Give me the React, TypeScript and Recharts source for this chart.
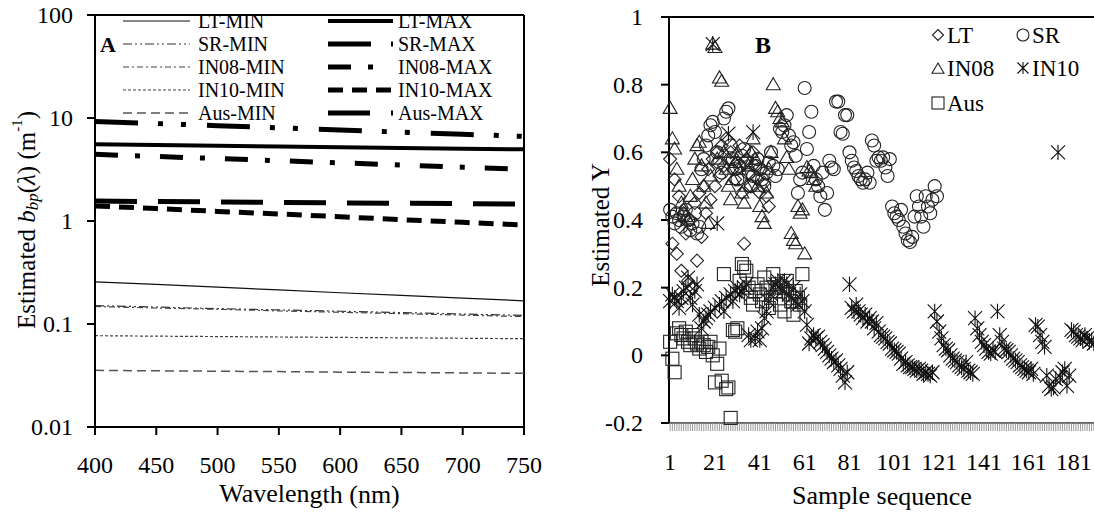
import React from "react";
import { LineChart, Line, XAxis, YAxis, ScatterChart, Scatter, ReferenceLine } from "recharts";

const FONT = "Times New Roman";

// Panel A: estimated bbp at each wavelength (log scale)
const wavelengths = [400, 450, 500, 550, 600, 650, 700, 750];
const ltMin = [0.257, 0.242, 0.228, 0.214, 0.201, 0.19, 0.178, 0.168];
const srMin = [0.151, 0.146, 0.141, 0.137, 0.133, 0.129, 0.125, 0.121];
const in08Min = [0.148, 0.143, 0.139, 0.134, 0.13, 0.126, 0.122, 0.118];
const in10Min = [0.077, 0.0762, 0.0755, 0.0748, 0.0741, 0.0734, 0.0727, 0.072];
const ausMin = [0.0355, 0.0351, 0.0348, 0.0345, 0.0341, 0.0338, 0.0335, 0.0332];
const ltMax = [5.55, 5.46, 5.37, 5.29, 5.2, 5.12, 5.04, 4.96];
const srMax = [9.26, 8.83, 8.42, 8.02, 7.65, 7.29, 6.95, 6.63];
const in08Max = [4.44, 4.23, 4.04, 3.85, 3.67, 3.5, 3.33, 3.18];
const in10Max = [1.4, 1.32, 1.24, 1.17, 1.1, 1.03, 0.97, 0.915];
const ausMax = [1.56, 1.545, 1.53, 1.515, 1.5, 1.487, 1.473, 1.46];
const wlTicks = [400, 450, 500, 550, 600, 650, 700, 750];
const logTicks = [0.01, 0.1, 1, 10, 100];

// Panel B: estimated Y per sample (sample n = position n in the list)
const ltY = [
  0.58, 0.33, 0.52, 0.3, 0.47, 0.25, 0.42, 0.36, 0.22, 0.4,
  0.2, 0.45, 0.28, 0.48, 0.35, 0.5, 0.42, 0.55, 0.46, 0.58,
  0.5, 0.6, 0.53, 0.62, 0.56, 0.64, 0.58, 0.6, 0.55, 0.52,
  0.57, 0.62, 0.48, 0.33, 0.58, 0.54, 0.5, 0.6, 0.56, 0.52,
  0.48, 0.55, 0.51, 0.47, 0.44,
];
const srY = [
  0.43, 0.41, 0.39, 0.42, 0.4, 0.38, 0.41, 0.43, 0.4, 0.37,
  0.39, 0.42, 0.36, 0.38, 0.55, 0.58, 0.62, 0.65, 0.68, 0.69,
  0.66, 0.6, 0.57, 0.54, 0.7, 0.72, 0.73, 0.62, 0.58, 0.55,
  0.52, 0.56, 0.59, 0.61, 0.57, 0.54, 0.5, 0.53, 0.56, 0.58,
  0.55, 0.52, 0.5, 0.54, 0.57, 0.6, 0.56, 0.53, 0.55, 0.67,
  0.66, 0.68, 0.71, 0.65, 0.62, 0.63, 0.59, 0.48, 0.52, 0.54,
  0.79, 0.61, 0.66, 0.72, 0.56, 0.52, 0.5, 0.47, 0.54, 0.43,
  0.48, 0.575, 0.555, 0.55, 0.75, 0.75, 0.66, 0.655, 0.71, 0.71,
  0.6, 0.575, 0.555, 0.545, 0.53, 0.52, 0.51, 0.52, 0.54, 0.51,
  0.635, 0.62, 0.575, 0.585, 0.575, 0.585, 0.555, 0.53, 0.58, 0.44,
  0.42, 0.41, 0.4, 0.43, 0.38, 0.36, 0.34, 0.335, 0.35, 0.41,
  0.47, 0.44, 0.41, 0.38, 0.47, 0.44, 0.42, 0.46, 0.5, 0.47,
];
const in08Y = [
  0.73, 0.64, 0.61, 0.55, 0.5, 0.45, 0.43, 0.41, 0.4, 0.47,
  0.52, 0.58, 0.62, 0.63, 0.56, 0.5, 0.45, 0.39, 0.53, 0.92,
  0.91, 0.58, 0.82, 0.81, 0.6, 0.55, 0.5, 0.46, 0.52, 0.57,
  0.6, 0.55, 0.48, 0.45, 0.5, 0.56, 0.6, 0.64, 0.58, 0.5,
  0.44, 0.41, 0.39, 0.48, 0.55, 0.6, 0.8, 0.73, 0.72, 0.7,
  0.69, 0.64, 0.585, 0.55, 0.36, 0.34, 0.33, 0.44, 0.42, 0.43,
  0.3, 0.555, 0.545, 0.54, 0.52, 0.5,
];
const in10Y = [
  0.16, 0.18, 0.17, 0.16, 0.14, 0.17, 0.19, 0.2, 0.23, 0.17,
  0.15, 0.19, 0.21, 0.12, 0.08, 0.1, 0.11, 0.12, 0.13, 0.92,
  0.14, 0.39, 0.15, 0.16, 0.13, 0.17, 0.655, 0.18, 0.16, 0.19,
  0.2, 0.18, 0.19, 0.2, 0.21, 0.06, 0.045, 0.66, 0.05, 0.07,
  0.045, 0.08, 0.11, 0.13, 0.16, 0.18, 0.2, 0.21, 0.22, 0.2,
  0.19, 0.22, 0.21, 0.18, 0.17, 0.2, 0.16, 0.15, 0.18, 0.16,
  0.13, 0.09, 0.035, 0.05, 0.06, 0.05, 0.055, 0.04, 0.03, 0.02,
  0.01, 0, -0.01, -0.02, -0.015, -0.03, -0.04, -0.06, -0.08, -0.05,
  0.21, 0.14, 0.13, 0.15, 0.13, 0.12, 0.11, 0.12, 0.1, 0.11,
  0.1, 0.08, 0.095, 0.07, 0.06, 0.055, 0.05, 0.04, 0.035, 0.02,
  0.015, 0.01, 0.005, -0.01, -0.025, -0.02, -0.03, -0.035, -0.035, -0.04,
  -0.045, -0.04, -0.045, -0.055, -0.05, -0.055, -0.06, -0.05, 0.13, 0.1,
  0.07, 0.05, 0.03, 0.02, 0.015, 0, -0.01, -0.015, -0.02, -0.03,
  -0.035, -0.04, -0.02, -0.045, -0.05, -0.055, 0.11, 0.08, 0.06, 0.04,
  0.03, 0.02, 0.01, 0.005, 0.015, 0.01, 0.13, 0.06, 0.04, 0.02,
  0.015, 0.01, 0, -0.01, -0.015, -0.02, -0.03, -0.035, -0.04, -0.045,
  -0.05, -0.04, -0.055, 0.09, 0.085, 0.06, 0.04, 0.025, -0.06, -0.09,
  -0.1, -0.095, -0.07, 0.6, -0.065, -0.05, -0.04, -0.09, -0.06, 0.075,
  0.07, 0.06, 0.055, 0.05, 0.045, 0.06, 0.05, 0.04, 0.045, 0.035,
];
const ausY = [
  0.04, -0.01, -0.05, 0.065, 0.08, 0.06, 0.05, 0.07, 0.04, 0.03,
  0.06, 0.05, 0.035, 0.02, 0.04, 0.03, 0.01, 0.025, 0.04, 0,
  -0.08, -0.025, 0.02, -0.075, 0.24, -0.1, -0.095, -0.185, 0.075, 0.07,
  0.08, 0.22, 0.27, 0.26, 0.25, 0.2, 0.17, 0.15, 0.19, 0.21,
  0.18, 0.16, 0.23, 0.2, 0.14, 0.17, 0.24, 0.19, 0.21, 0.15,
  0.2, 0.13, 0.22, 0.18, 0.16, 0.12, 0.19, 0.17, 0.15, 0.24,
];
const sampleLabels = [1, 21, 41, 61, 81, 101, 121, 141, 161, 181];
const sampleCount = 190;
const yTicksB = [-0.2, 0, 0.2, 0.4, 0.6, 0.8, 1];

const lineData = wavelengths.map((wl, i) => ({
  wl,
  ltMin: ltMin[i], srMin: srMin[i], in08Min: in08Min[i], in10Min: in10Min[i], ausMin: ausMin[i],
  ltMax: ltMax[i], srMax: srMax[i], in08Max: in08Max[i], in10Max: in10Max[i], ausMax: ausMax[i],
}));

const toPoints = (vals: number[]) => vals.map((y, i) => ({ x: i + 1, y }));
const sampleTicks = Array.from({ length: sampleCount }, (_, i) => i + 1);

const lineStyles: Record<string, { w: number; dash?: string; color: string }> = {
  ltMin: { w: 1.2, color: "#111" },
  srMin: { w: 1.2, dash: "9 3 2 3 2 3", color: "#333" },
  in08Min: { w: 1.2, dash: "6 3 2 3", color: "#444" },
  in10Min: { w: 1.2, dash: "3 2", color: "#444" },
  ausMin: { w: 1.5, dash: "9 5", color: "#555" },
  ltMax: { w: 4, color: "#000" },
  srMax: { w: 5, dash: "43 20 5 18 5 21", color: "#000" },
  in08Max: { w: 5, dash: "23 17 5 20", color: "#000" },
  in10Max: { w: 5, dash: "15 9", color: "#000" },
  ausMax: { w: 5, dash: "42 21", color: "#000" },
};

const legendA = [
  ["ltMin", "LT-MIN", "ltMax", "LT-MAX"],
  ["srMin", "SR-MIN", "srMax", "SR-MAX"],
  ["in08Min", "IN08-MIN", "in08Max", "IN08-MAX"],
  ["in10Min", "IN10-MIN", "in10Max", "IN10-MAX"],
  ["ausMin", "Aus-MIN", "ausMax", "Aus-MAX"],
];

const MK = "#222";
const Diamond = ({ cx, cy, s = 6.5 }: any) => (
  <path d={`M${cx},${cy - s}L${cx + s},${cy}L${cx},${cy + s}L${cx - s},${cy}Z`} fill="none" stroke={MK} strokeWidth={1.1} />
);
const Circ = ({ cx, cy, s = 6.5 }: any) => <circle cx={cx} cy={cy} r={s} fill="none" stroke={MK} strokeWidth={1.1} />;
const Tri = ({ cx, cy, s = 7 }: any) => (
  <path d={`M${cx},${cy - s}L${cx + s},${cy + s * 0.72}L${cx - s},${cy + s * 0.72}Z`} fill="none" stroke={MK} strokeWidth={1.1} />
);
const Sq = ({ cx, cy, s = 6.5 }: any) => <rect x={cx - s} y={cy - s} width={2 * s} height={2 * s} fill="none" stroke={MK} strokeWidth={1.1} />;
const Star = ({ cx, cy, s = 7 }: any) => (
  <path
    d={`M${cx - s},${cy - s}L${cx + s},${cy + s}M${cx - s},${cy + s}L${cx + s},${cy - s}M${cx},${cy - s * 1.1}L${cx},${cy + s * 1.1}`}
    fill="none" stroke="#111" strokeWidth={1.1}
  />
);

// serif text helper, placed with a transform like the rotated axis titles
const SerifText = ({ x, y, size = 24, anchor = "middle", angle = 0.01, weight, children }: any) => (
  <text
    transform={`translate(${x},${y}) rotate(${angle})`}
    textAnchor={anchor} dominantBaseline="central"
    fontFamily={FONT} fontSize={size} fontWeight={weight} fill="#000"
  >
    {children}
  </text>
);

const XTick = ({ x, y, payload }: any) => <SerifText x={x} y={y + 10}>{payload.value}</SerifText>;
const YTick = ({ x, y, payload }: any) => <SerifText x={x} y={y} anchor="end">{String(payload.value)}</SerifText>;
const SampleTick = ({ x, y, payload }: any) =>
  sampleLabels.includes(payload.value) ? <SerifText x={x} y={y + 10}>{payload.value}</SerifText> : <g />;

export default function App() {
  return (
    <div style={{ position: "fixed", left: 0, top: 0, width: 1094, height: 512, background: "#fff", overflow: "hidden" }}>
      <div style={{ position: "absolute", left: 0, top: 0 }}>
        <LineChart width={560} height={512} data={lineData} margin={{ top: 15, right: 36, bottom: 0, left: 0 }}>
          <XAxis
            dataKey="wl" type="number" domain={[400, 750]} ticks={wlTicks} height={85}
            axisLine={{ stroke: "#000", strokeWidth: 2 }} tickLine={{ stroke: "#000", strokeWidth: 2 }} tickSize={8} tickMargin={20}
            tick={<XTick />}
            label={{
              content: (p: any) => (
                <SerifText x={p.viewBox.x + p.viewBox.width / 2} y={494} size={26}>Wavelength (nm)</SerifText>
              ),
            }}
          />
          <YAxis
            type="number" scale="log" domain={[0.01, 100]} ticks={logTicks} width={95} allowDataOverflow
            axisLine={{ stroke: "#000", strokeWidth: 2 }} tickLine={{ stroke: "#000", strokeWidth: 2 }} tickSize={8} tickMargin={14}
            tick={<YTick />}
            label={{
              content: () => (
                <text transform="translate(26,220) rotate(-90)" textAnchor="middle" dominantBaseline="central" fontFamily={FONT} fontSize={25} fill="#000">
                  Estimated <tspan fontStyle="italic">b</tspan>
                  <tspan fontStyle="italic" fontSize={17} dy={6}>bp</tspan>
                  <tspan dy={-6}>(</tspan>
                  <tspan fontStyle="italic">λ</tspan>
                  <tspan>) (m</tspan>
                  <tspan fontSize={15} dy={-9}>-1</tspan>
                  <tspan dy={9}>)</tspan>
                </text>
              ),
            }}
          />
          <ReferenceLine y={100} stroke="#000" strokeWidth={2} ifOverflow="extendDomain" />
          <ReferenceLine x={750} stroke="#000" strokeWidth={2} ifOverflow="extendDomain" />
          {Object.keys(lineStyles).map((k) => (
            <Line
              key={k} dataKey={k} type="linear" dot={false} isAnimationActive={false}
              stroke={lineStyles[k].color} strokeWidth={lineStyles[k].w} strokeDasharray={lineStyles[k].dash}
            />
          ))}
        </LineChart>
      </div>

      <div style={{ position: "absolute", left: 560, top: 0 }}>
        <ScatterChart width={540} height={512} margin={{ top: 17, right: 5, bottom: 0, left: 0 }}>
          <XAxis
            dataKey="x" type="number" domain={[0.5, sampleCount + 0.5]} ticks={sampleTicks} interval={0} height={89}
            axisLine={{ stroke: "#666", strokeWidth: 2 }} tickLine={{ stroke: "#999", strokeWidth: 1 }} tickSize={8} tickMargin={21}
            tick={<SampleTick />}
            label={{
              content: (p: any) => (
                <SerifText x={p.viewBox.x + p.viewBox.width / 2} y={496} size={26}>Sample sequence</SerifText>
              ),
            }}
          />
          <YAxis
            dataKey="y" type="number" domain={[-0.2, 1]} ticks={yTicksB} width={109}
            axisLine={{ stroke: "#000", strokeWidth: 2 }} tickLine={{ stroke: "#000", strokeWidth: 2 }} tickSize={8} tickMargin={18}
            tick={<YTick />}
            label={{
              content: () => <SerifText x={40} y={225} size={25} angle={-90}>Estimated Y</SerifText>,
            }}
          />
          <ReferenceLine y={1} stroke="#000" strokeWidth={2} />
          <Scatter name="LT" data={toPoints(ltY)} isAnimationActive={false} shape={(p: any) => <Diamond cx={p.cx} cy={p.cy} />} />
          <Scatter name="SR" data={toPoints(srY)} isAnimationActive={false} shape={(p: any) => <Circ cx={p.cx} cy={p.cy} />} />
          <Scatter name="IN08" data={toPoints(in08Y)} isAnimationActive={false} shape={(p: any) => <Tri cx={p.cx} cy={p.cy} />} />
          <Scatter name="IN10" data={toPoints(in10Y)} isAnimationActive={false} shape={(p: any) => <Star cx={p.cx} cy={p.cy} />} />
          <Scatter name="Aus" data={toPoints(ausY)} isAnimationActive={false} shape={(p: any) => <Sq cx={p.cx} cy={p.cy} />} />
        </ScatterChart>
      </div>

      {/* legends and panel letters */}
      <svg width={1094} height={140} style={{ position: "absolute", left: 0, top: 0, pointerEvents: "none" }}>
        <text x={100} y={44} fontFamily={FONT} fontSize={22} fontWeight="bold" dominantBaseline="central">A</text>
        {legendA.map(([k1, t1, k2, t2], i) => {
          const y = 21 + i * 23;
          const s1 = lineStyles[k1];
          const s2 = lineStyles[k2];
          return (
            <g key={k1}>
              <line x1={123} x2={190} y1={y} y2={y} stroke={s1.color} strokeWidth={s1.w} strokeDasharray={s1.dash} />
              <text x={198} y={y} fontFamily={FONT} fontSize={20} dominantBaseline="central">{t1}</text>
              <line x1={328} x2={393} y1={y} y2={y} stroke={s2.color} strokeWidth={s2.w} strokeDasharray={s2.dash} />
              <text x={398} y={y} fontFamily={FONT} fontSize={20} dominantBaseline="central">{t2}</text>
            </g>
          );
        })}
        <text x={755} y={45} fontFamily={FONT} fontSize={24} fontWeight="bold" dominantBaseline="central">B</text>
        <Diamond cx={938} cy={35} s={5.5} />
        <text x={947} y={35} fontFamily={FONT} fontSize={23} dominantBaseline="central">LT</text>
        <Circ cx={1023} cy={35} s={6} />
        <text x={1032} y={35} fontFamily={FONT} fontSize={23} dominantBaseline="central">SR</text>
        <Tri cx={938} cy={69} s={6} />
        <text x={947} y={68} fontFamily={FONT} fontSize={23} dominantBaseline="central">IN08</text>
        <Star cx={1023} cy={68} s={5.5} />
        <text x={1032} y={68} fontFamily={FONT} fontSize={23} dominantBaseline="central">IN10</text>
        <Sq cx={938} cy={103} s={6} />
        <text x={947} y={103} fontFamily={FONT} fontSize={23} dominantBaseline="central">Aus</text>
      </svg>
    </div>
  );
}
